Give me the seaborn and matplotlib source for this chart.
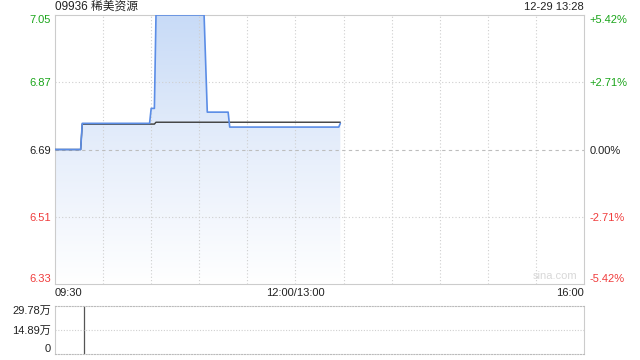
import numpy as np
import pandas as pd
import matplotlib
matplotlib.use("Agg")
import matplotlib.pyplot as plt
from matplotlib.colors import LinearSegmentedColormap
import seaborn as sns

# ---- data ----
title = "09936 稀美资源"
stamp = "12-29 13:28"
prev_close = 6.69
price_min = [0, 16, 17, 59, 60, 62, 63, 93, 95, 108, 109, 177, 178]
price_val = [6.69, 6.69, 6.76, 6.76, 6.80, 6.80, 7.05, 7.05, 6.79, 6.79, 6.75, 6.75, 6.76]
avg_min = [0, 16, 17, 62, 63, 178]
avg_val = [6.69, 6.69, 6.758, 6.758, 6.763, 6.763]
vol_min = [16, 18, 59, 62, 93, 108, 140, 177]
vol_val = [1500, 297800, 1200, 1800, 900, 800, 600, 700]
left_ticks = [7.05, 6.87, 6.69, 6.51, 6.33]
left_labels = ["7.05", "6.87", "6.69", "6.51", "6.33"]
right_labels = ["+5.42%", "+2.71%", "0.00%", "-2.71%", "-5.42%"]
tick_colors = ["#1aa51a", "#1aa51a", "#222222", "#f03c3c", "#f03c3c"]
x_ticks = [0, 150, 330]
x_labels = ["09:30", "12:00/13:00", "16:00"]
vol_ticks = [297800, 148900, 0]
vol_labels = ["29.78万", "14.89万", "0"]

sns.set_theme(style="white")
plt.rcParams['font.family'] = ['Liberation Sans', 'Noto Sans CJK SC', 'DejaVu Sans']

fig = plt.figure(figsize=(6.4, 3.6), dpi=100)
L, R = 55 / 640, 584 / 640
ax = fig.add_axes([L, 1 - 284 / 360, R - L, (284 - 15) / 360])
axv = fig.add_axes([L, 1 - 354 / 360, R - L, (354 - 306) / 360])

ymin, ymax = left_ticks[-1], left_ticks[0]
xmin, xmax = 0, 330

df_p = pd.DataFrame({"t": price_min, "p": price_val})
df_a = pd.DataFrame({"t": avg_min, "p": avg_val})

# gradient fill under price line
poly = ax.fill_between(df_p["t"], df_p["p"], ymin, color="none", lw=0)
cmap = LinearSegmentedColormap.from_list("g", ["#ffffff", "#e6eefb", "#c8dbf7"])
grad = np.linspace(1, 0, 256).reshape(-1, 1)
im = ax.imshow(grad, extent=[xmin, xmax, ymin, ymax], aspect="auto", cmap=cmap,
               origin="upper", zorder=1)
im.set_clip_path(poly.get_paths()[0], transform=ax.transData)

# grid
for xv in range(30, 330, 30):
    ax.axvline(xv, color="#cfcfcf", lw=0.8, ls=(0, (1, 2)), zorder=2)
for yv in [6.87, 6.51]:
    ax.axhline(yv, color="#cfcfcf", lw=0.8, ls=(0, (1, 2)), zorder=2)
ax.axhline(prev_close, color="#bdbdbd", lw=0.8, ls=(0, (3, 3)), zorder=2)

sns.lineplot(data=df_a, x="t", y="p", ax=ax, color="#3a3a3a", lw=1.0, zorder=3)
sns.lineplot(data=df_p, x="t", y="p", ax=ax, color="#5b8de6", lw=1.2, zorder=4)

ax.set_xlim(xmin, xmax)
ax.set_ylim(ymin, ymax)
ax.set_xlabel("")
ax.set_ylabel("")
ax.set_yticks(left_ticks)
ax.set_yticklabels(left_labels, fontsize=8)
for lab, c in zip(ax.get_yticklabels(), tick_colors):
    lab.set_color(c)
yl = ax.get_yticklabels()
yl[0].set_va("top")
yl[-1].set_va("bottom")
ax.set_xticks(x_ticks)
ax.set_xticklabels(x_labels, fontsize=8, color="#222222")
xl = ax.get_xticklabels()
xl[0].set_ha("left")
xl[2].set_ha("right")
ax.tick_params(axis="both", length=0, pad=3)
for s in ax.spines.values():
    s.set_color("#cccccc")
    s.set_linewidth(0.8)

ax2 = ax.twinx()
ax2.set_ylim(ymin, ymax)
ax2.set_yticks(left_ticks)
ax2.set_yticklabels(right_labels, fontsize=8)
for lab, c in zip(ax2.get_yticklabels(), tick_colors):
    lab.set_color(c)
rl = ax2.get_yticklabels()
rl[0].set_va("top")
rl[-1].set_va("bottom")
ax2.tick_params(axis="y", length=0, pad=4)
for s in ax2.spines.values():
    s.set_visible(False)
ax2.grid(False)

ax.text(0.945, 0.012, "sina.com", transform=ax.transAxes, ha="center", va="bottom",
        fontsize=8, color="#d8d8d8")

# volume panel
axv.vlines(vol_min, 0, vol_val, color="#555555", lw=0.9)
axv.set_xlim(xmin, xmax)
axv.set_ylim(0, vol_ticks[0])
axv.set_yticks(vol_ticks)
axv.set_yticklabels(vol_labels, fontsize=8, color="#222222")
vl = axv.get_yticklabels()
vl[0].set_va("top")
vl[-1].set_va("bottom")
axv.set_xticks([])
axv.tick_params(axis="y", length=0, pad=3)
axv.axhline(vol_ticks[1], color="#d0d0d0", lw=0.8, ls=(0, (1, 1.5)))
for k in ["left", "right"]:
    axv.spines[k].set_color("#cccccc")
    axv.spines[k].set_linewidth(0.8)
for k in ["top", "bottom"]:
    axv.spines[k].set_color("#bbbbbb")
    axv.spines[k].set_linewidth(0.8)
    axv.spines[k].set_linestyle((0, (1, 1.5)))

fig.text(L, 1 - 7 / 360, title, ha="left", va="center", fontsize=8.5, color="#222222")
fig.text(R, 1 - 7 / 360, stamp, ha="right", va="center", fontsize=8, color="#222222")

fig.savefig("out.png", dpi=100)
